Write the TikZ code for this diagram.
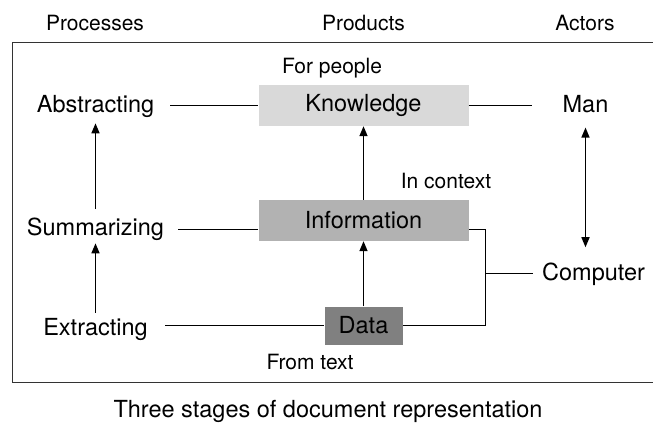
\documentclass[tikz,border=0pt]{standalone}
\usepackage{fontspec}
\setmainfont{TeX Gyre Heros}
\usetikzlibrary{arrows.meta,calc}
\definecolor{knowc}{gray}{0.85}
\definecolor{infoc}{gray}{0.70}
\definecolor{datac}{gray}{0.50}
\begin{document}
\begin{tikzpicture}[x=1pt,y=-1pt,
  lbl/.style={font=\fontsize{23.5}{28}\selectfont, inner sep=0pt, anchor=base},
  hdr/.style={font=\fontsize{21}{25}\selectfont, inner sep=0pt, anchor=base},
  prodbox/.style={minimum width=210pt, minimum height=41pt, inner sep=0pt, font=\fontsize{23.5}{28}\selectfont},
  conn/.style={line width=1.5pt, black},
  arr/.style={conn, -{Triangle[length=10pt,width=8pt]}},
  dblarr/.style={conn, {Triangle[length=10pt,width=8pt]}-{Triangle[length=10pt,width=8pt]}},
]
\useasboundingbox (0,0) rectangle (653,425);
\draw[line width=1.5pt, black!80] (653,42.5) -- (12.5,42.5) -- (12.5,382.5) -- (653,382.5);
% headers
\node[hdr] (proc) at (95,31) {Processes};
\node[hdr] (prod) at (363.5,31) {Products};
\node[hdr] (act) at (585,31) {Actors};
% processes
\node[lbl] (abs) at (95.5,113) {Abstracting};
\node[lbl] (sum) at (95.5,235) {Summarizing};
\node[lbl] (ext) at (95.5,335) {Extracting};
% products
\node[prodbox, fill=knowc] (K) at (363.5,105.5) {Knowledge};
\node[prodbox, fill=infoc] (I) at (363.5,220.5) {Information};
\node[prodbox, fill=datac, minimum width=78pt, minimum height=38pt] (D) at (363.5,325.5) {Data};
\node[hdr] (forp) at (332,74) {For people};
\node[hdr] (inctx) at (446,188) {In context};
\node[hdr] (fromt) at (310,369) {From text};
% actors
\node[lbl] (man) at (585.5,113) {Man};
\node[lbl] (comp) at (593.5,280) {Computer};
% caption
\node[lbl, font=\fontsize{23.5}{28}\selectfont] (cap) at (328,417) {Three stages of document representation};
% connectors
\coordinate (absend) at (170,105.5);
\coordinate (manend) at (532,105.5);
\draw[conn] (absend) -- (K.west);
\draw[conn] (K.east) -- (manend);
\coordinate (sumend) at (178,229.5);
\draw[conn] (sumend) -- ([yshift=-9pt]I.west);
\coordinate (extend) at (165,325.5);
\draw[conn] (extend) -- (D.west);
\coordinate (junc) at (485.5,273.5);
\draw[conn] ([yshift=-9pt]I.east) -| (junc) |- (D.east);
\draw[conn, shorten >=9pt] (junc) -- (comp.west |- junc);
\draw[arr] (I.north) -- (K.south);
\draw[arr] (D.north) -- (I.south);
\draw[arr, shorten <=5pt, shorten >=3pt] (ext.north) -- (sum.south);
\draw[arr, shorten <=8pt, shorten >=5pt] (sum.north) -- (abs.south);
\draw[dblarr, shorten <=14pt, shorten >=15pt] (man.south) -- (man.south |- comp.north);
\end{tikzpicture}
\end{document}
